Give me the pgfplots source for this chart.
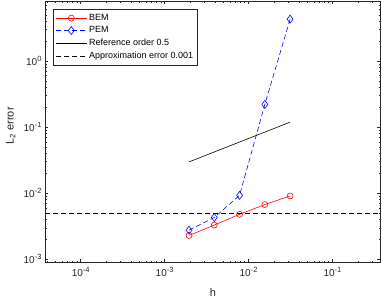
\documentclass[border=0pt]{standalone}
\usepackage{fontspec}
\setmainfont{Liberation Sans}
\usepackage{pgfplots}
\pgfplotsset{compat=1.18}
\definecolor{axgray}{rgb}{0.15,0.15,0.15}
\newcommand{\tenp}[1]{10\raisebox{0.75ex}{\fontsize{7.5}{8}\selectfont #1}}
\begin{document}
\begin{tikzpicture}
\begin{loglogaxis}[
  scale only axis, width=335.7pt, height=261.7pt, at={(0pt,0pt)}, anchor=south west,
  xmin=3.76e-5, xmax=0.375, ymin=8.9e-4, ymax=8.1,
  xtick={1e-4,1e-3,1e-2,1e-1},
  xticklabels={\tenp{-4},\tenp{-3},\tenp{-2},\tenp{-1}},
  ytick={1e-3,1e-2,1e-1,1},
  yticklabels={\tenp{-3},\tenp{-2},\tenp{-1},\tenp{0}},
  minor xtick={4e-5,5e-5,6e-5,7e-5,8e-5,9e-5,2e-4,3e-4,4e-4,5e-4,6e-4,7e-4,8e-4,9e-4,2e-3,3e-3,4e-3,5e-3,6e-3,7e-3,8e-3,9e-3,2e-2,3e-2,4e-2,5e-2,6e-2,7e-2,8e-2,9e-2,0.2,0.3},
  minor ytick={2e-3,3e-3,4e-3,5e-3,6e-3,7e-3,8e-3,9e-3,2e-2,3e-2,4e-2,5e-2,6e-2,7e-2,8e-2,9e-2,0.2,0.3,0.4,0.5,0.6,0.7,0.8,0.9,2,3,4,5,6,7,8},
  tick align=inside, major tick length=3.4pt, minor tick length=2pt,
  axis line style={axgray, line width=0.5pt},
  every tick/.style={axgray, line width=0.5pt},
  tick label style={font=\fontsize{10}{12}\selectfont, text=axgray},
  xticklabel style={yshift=-1pt},
  xlabel={h}, ylabel={L\textsubscript{2} error},
  label style={font=\fontsize{11}{13}\selectfont, text=axgray},
  xlabel style={at={(axis description cs:0.5,-0.128)}, anchor=base},
  ylabel style={at={(axis description cs:-0.102,0.523)}, anchor=center},
  legend cell align=left,
  legend image code/.code={\draw[mark repeat=2,mark phase=2] plot coordinates {(0pt,0pt) (15.5pt,0pt) (31pt,0pt)};},
  legend style={at={(axis description cs:0.0247,0.9694)}, anchor=north west, draw=axgray, line width=0.5pt,
    font=\fontsize{9}{11}\selectfont, row sep=0.8pt, inner xsep=2pt, inner ysep=3pt},
]
\addplot[red, line width=0.6pt, mark=o, mark size=3pt] coordinates {
  (0.001953125,0.00230) (0.00390625,0.00330) (0.0078125,0.00480) (0.015625,0.00675) (0.03125,0.0091)};
\addlegendentry{BEM}
\addplot[blue, line width=0.6pt, dash pattern=on 5pt off 3pt, mark=diamond, mark size=4pt, mark options={solid}] coordinates {
  (0.001953125,0.00277) (0.00390625,0.0043) (0.0078125,0.0093) (0.015625,0.221) (0.03125,4.3)};
\addlegendentry{PEM}
\addplot[black, line width=0.6pt] coordinates {(0.001953125,0.0298) (0.03125,0.119)};
\addlegendentry{Reference order 0.5}
\addplot[black, line width=0.6pt, dash pattern=on 5pt off 3pt] coordinates {(3.76e-5,0.005) (0.375,0.005)};
\addlegendentry{Approximation error 0.001}
\end{loglogaxis}
\pgfresetboundingbox
\useasboundingbox (-45pt,-35.3pt) rectangle (336pt,262.7pt);
\end{tikzpicture}
\end{document}
